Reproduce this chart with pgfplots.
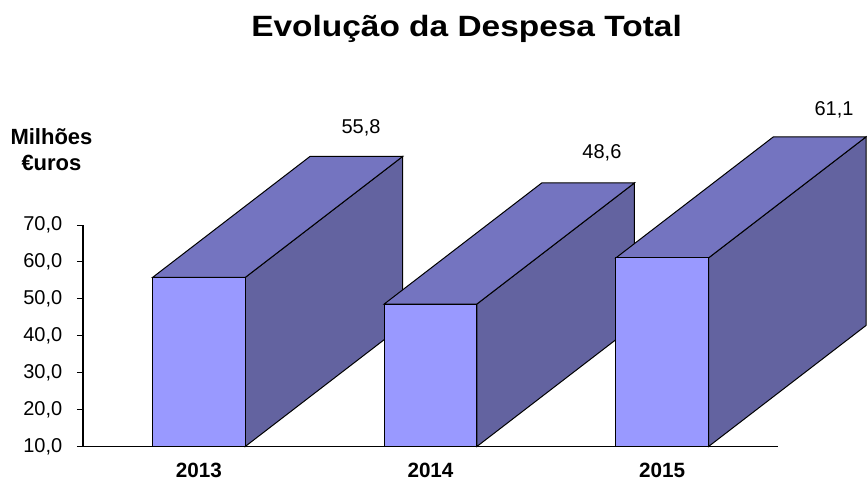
\documentclass[border=0pt]{standalone}
\usepackage{pgfplots}
\pgfplotsset{compat=1.18}
\usepackage{fontspec}
\setmainfont{Liberation Sans}
\newfontfamily\titlefont[FakeStretch=1.14]{Liberation Sans}
\definecolor{barfront}{RGB}{153,153,255}
\definecolor{bartop}{RGB}{116,116,192}
\definecolor{barside}{RGB}{99,99,160}
\begin{document}
\begin{tikzpicture}
\path[use as bounding box] (0,0) rectangle (650.25pt,361.5pt);
\node[anchor=base, font=\titlefont\bfseries\fontsize{22}{26}\selectfont] at (349.9pt,333.75pt) {Evolução da Despesa Total};
\node[align=center, font=\bfseries\fontsize{16.5}{19.5}\selectfont] at (38.6pt,249.4pt) {Milhões\\€uros};
\begin{axis}[
    at={(62.25pt,26.6pt)}, anchor=south west,
    scale only axis, width=521.25pt, height=166.1pt,
    xmin=-0.5, xmax=2.5, ymin=10, ymax=70,
    clip=false,
    axis x line=bottom, axis y line=left,
    axis line style={-, line width=1pt},
    tick align=outside, major tick length=4.5pt,
    tick style={black, line width=0.75pt},
    ytick={10,20,...,70},
    yticklabel style={font=\fontsize{15}{18}\selectfont, xshift=-7.5pt,
        /pgf/number format/.cd, fixed, fixed zerofill, precision=1, use comma, assume math mode=true},
    xtick={0,1,2}, xticklabels={2013,2014,2015},
    xticklabel style={font=\bfseries\fontsize{15.5}{18}\selectfont, inner sep=0pt, yshift=-8pt},
    x tick style={draw=none},
    extra x ticks={0.5,1.5,2.5}, extra x tick labels={},
    extra x tick style={tick style={draw=black, line width=0.75pt}},
]
% 2013
\addplot[fill=barside, draw=black, line width=0.75pt, mark=none] coordinates {(0.2,10) (0.2,55.8) (0.88,88.6) (0.88,42.8)} --cycle;
\addplot[fill=bartop, draw=black, line width=0.75pt, mark=none] coordinates {(-0.2,55.8) (0.2,55.8) (0.88,88.6) (0.48,88.6)} --cycle;
\addplot[fill=barfront, draw=black, line width=0.75pt, mark=none] coordinates {(-0.2,10) (0.2,10) (0.2,55.8) (-0.2,55.8)} --cycle;
% 2014
\addplot[fill=barside, draw=black, line width=0.75pt, mark=none] coordinates {(1.2,10) (1.2,48.6) (1.88,81.4) (1.88,42.8)} --cycle;
\addplot[fill=bartop, draw=black, line width=0.75pt, mark=none] coordinates {(0.8,48.6) (1.2,48.6) (1.88,81.4) (1.48,81.4)} --cycle;
\addplot[fill=barfront, draw=black, line width=0.75pt, mark=none] coordinates {(0.8,10) (1.2,10) (1.2,48.6) (0.8,48.6)} --cycle;
% 2015
\addplot[fill=barside, draw=black, line width=0.75pt, mark=none] coordinates {(2.2,10) (2.2,61.1) (2.88,93.9) (2.88,42.8)} --cycle;
\addplot[fill=bartop, draw=black, line width=0.75pt, mark=none] coordinates {(1.8,61.1) (2.2,61.1) (2.88,93.9) (2.48,93.9)} --cycle;
\addplot[fill=barfront, draw=black, line width=0.75pt, mark=none] coordinates {(1.8,10) (2.2,10) (2.2,61.1) (1.8,61.1)} --cycle;
% value labels
\node[font=\fontsize{15}{18}\selectfont] at (axis cs:0.70,96.3) {55,8};
\node[font=\fontsize{15}{18}\selectfont] at (axis cs:1.74,89.5) {48,6};
\node[font=\fontsize{15}{18}\selectfont] at (axis cs:2.742,101.2) {61,1};
\end{axis}
\end{tikzpicture}
\end{document}
